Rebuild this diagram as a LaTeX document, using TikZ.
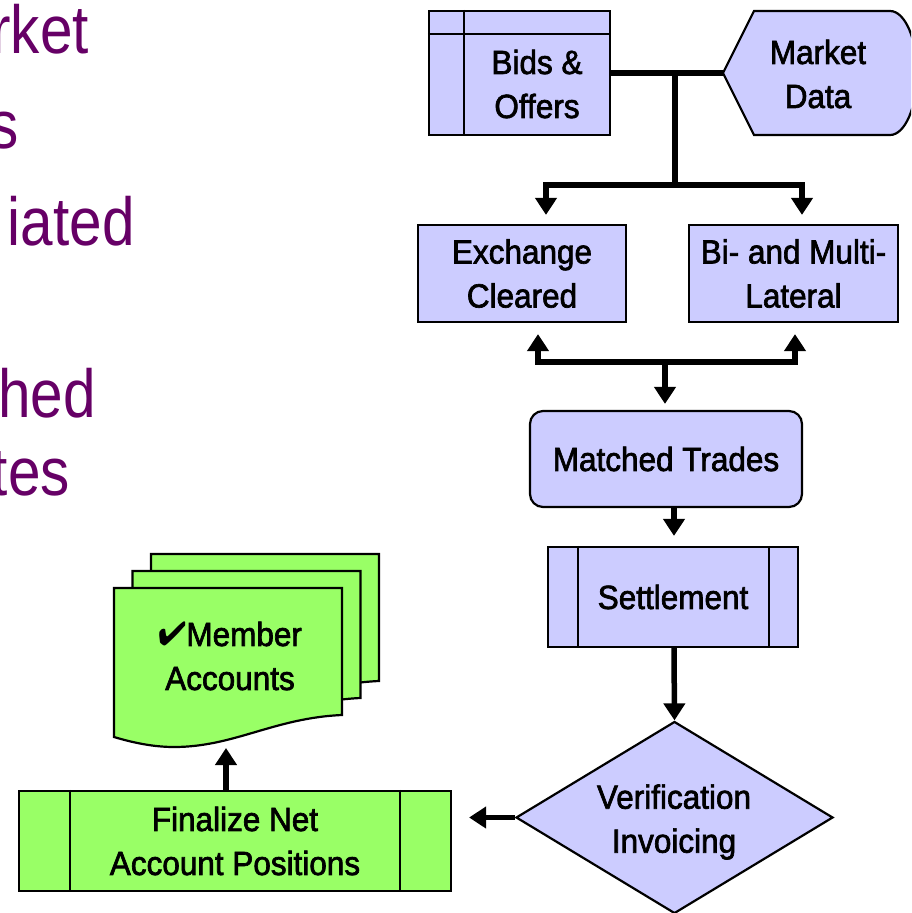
\documentclass[tikz,border=0pt]{standalone}
\usepackage{fontspec}
\setmainfont{Liberation Sans}[FakeStretch=0.94,FakeBold=2]
\newfontfamily\purplefont{Liberation Sans}[FakeStretch=0.86]
\usepackage{pifont}
\usetikzlibrary{arrows.meta,shapes.geometric}
\definecolor{bluefill}{HTML}{CCCCFF}
\definecolor{greenfill}{HTML}{99FF66}
\definecolor{purpletext}{HTML}{660066}
\tikzset{
  outline/.style={draw=black, line width=2.2pt},
  bluebox/.style={outline, fill=bluefill, rectangle, inner sep=0pt, align=center, font=\fontsize{33.5}{44}\selectfont},
  greenbox/.style={outline, fill=greenfill, rectangle, inner sep=0pt, align=center, font=\fontsize{33.5}{44}\selectfont},
  lbl/.style={align=center, inner sep=0pt, font=\fontsize{33.5}{44}\selectfont},
  wire/.style={line width=5.5pt, line join=miter},
  arr/.style={wire, -{Triangle[length=17pt,width=21pt]}},
  bigtext/.style={anchor=base east, text=purpletext, inner sep=0pt, font=\purplefont\fontsize{68}{80}\selectfont},
  doc/.pic={
    \draw[outline, fill=greenfill] (0,0) -- (228,0) -- (228,127)
      .. controls (160,130) and (120,159) .. (60,159)
      .. controls (40,159) and (20,155) .. (0,149) -- cycle;
  }
}
\begin{document}
\begin{tikzpicture}[x=1pt,y=-1pt]
\useasboundingbox (0,0) rectangle (911,913);
\clip (0,0) rectangle (911,913);

% left purple text fragments
\node[bigtext] (t1) at (89,53) {rket};
\node[bigtext] (t2) at (19,148) {s};
\node[bigtext] (t3) at (135,245) {iated};
\node[bigtext] (t4) at (96,417) {hed};
\node[bigtext] (t5) at (70,495) {tes};

% Bids & Offers
\node[bluebox, minimum width=181pt, minimum height=124pt] (bids) at (519.5,73) {};
\draw[outline] ([yshift=-24pt]bids.north west) -- ([yshift=-24pt]bids.north east);
\draw[outline] ([xshift=36pt]bids.north west) -- ([xshift=36pt]bids.south west);
\node[lbl] (bidst) at (537,84) {Bids \&\\Offers};

% Market Data (display shape)
\draw[outline, fill=bluefill] (723,73) coordinate (mktL) -- (754,11) -- (890,11)
  arc[start angle=-90, end angle=90, x radius=27, y radius=62] -- (754,135) -- cycle;
\node[lbl] (mktt) at (818,74) {Market\\Data};

% Exchange / Bi-lateral
\node[bluebox, minimum width=208pt, minimum height=97pt] (exch) at (522,273.5) {Exchange\\Cleared};
\node[bluebox, minimum width=209pt, minimum height=97pt] (bilat) at (793.5,273.5) {Bi- and Multi-\\Lateral};

% Matched Trades
\node[bluebox, rounded corners=13pt, minimum width=272pt, minimum height=96pt] (match) at (666,459) {Matched Trades};

% Settlement
\node[bluebox, minimum width=250pt, minimum height=100pt] (settle) at (673,597) {Settlement};
\draw[outline] ([xshift=31pt]settle.north west) -- ([xshift=31pt]settle.south west);
\draw[outline] ([xshift=-30pt]settle.north east) -- ([xshift=-30pt]settle.south east);

% Verification diamond
\node[outline, fill=bluefill, diamond, aspect=1.65, inner sep=0pt, minimum width=317pt, minimum height=192pt] (diam) at (674.5,817.5) {};
\node[lbl] (diamt) at (674,822) {Verification\\Invoicing};

% Finalize
\node[greenbox, minimum width=432pt, minimum height=100pt] (fin) at (235,841) {Finalize Net\\Account Positions};
\draw[outline] ([xshift=52pt]fin.north west) -- ([xshift=52pt]fin.south west);
\draw[outline] ([xshift=-52pt]fin.north east) -- ([xshift=-52pt]fin.south east);

% Member accounts multi-document
\pic at (151,554) {doc};
\pic at (132.5,571) {doc};
\pic at (114,588) {doc};
\node[lbl] (membt) at (230,656) {\ding{52}Member\\Accounts};
\coordinate (membot) at (226,748);

% connectors
\coordinate (j1) at (675,73);
\coordinate (j2) at (675,185);
\draw[wire] (bids.east) -- (mktL);
\draw[wire] (j1) -- (j2);
\draw[arr] (j2) -| ([xshift=24pt,yshift=9pt]exch.north);
\draw[arr] (j2) -| ([xshift=8.5pt,yshift=9pt]bilat.north);

\coordinate (j3) at (665,362);
\draw[arr] (j3) -| ([xshift=16pt,yshift=-11pt]exch.south);
\draw[arr] (j3) -| ([xshift=1.5pt,yshift=-11pt]bilat.south);
\draw[arr] (j3) -- ([xshift=-1pt,yshift=6pt]match.north);

\draw[arr] ([xshift=8pt]match.south) -- ([xshift=1pt,yshift=10pt]settle.north);
\draw[arr] ([xshift=1pt]settle.south) -- (diam.north);
\draw[arr] (diam.west) -- ([xshift=17pt]fin.east |- diam.west);
\draw[arr] ([xshift=-9pt]fin.north) -- (membot);
\end{tikzpicture}
\end{document}
